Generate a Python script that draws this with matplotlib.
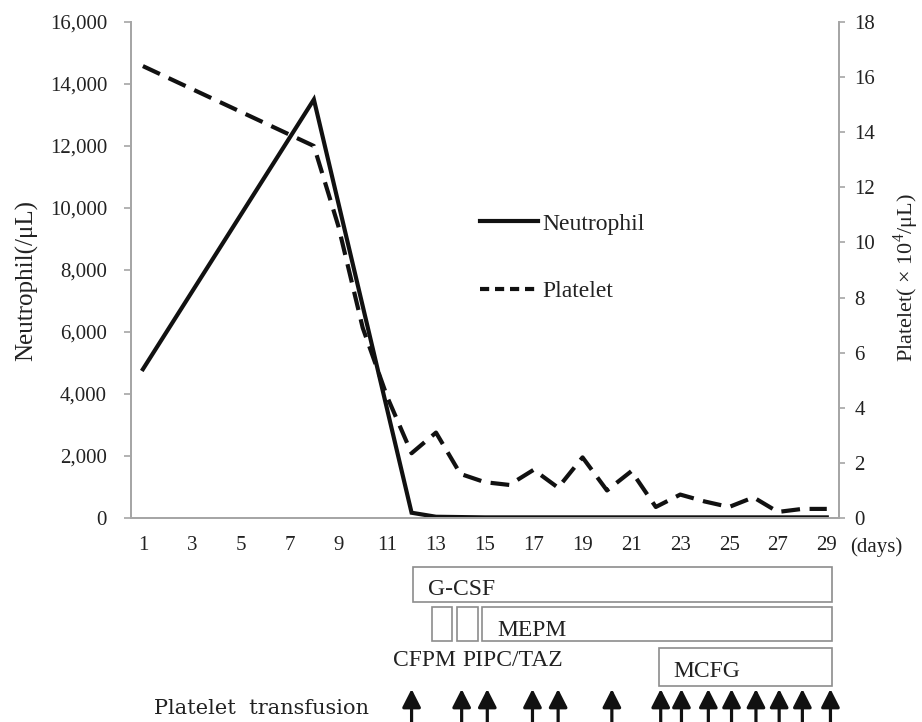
import matplotlib
matplotlib.use("Agg")
import matplotlib.pyplot as plt
from matplotlib.patches import Rectangle
from matplotlib.lines import Line2D
from matplotlib.ticker import FuncFormatter

plt.rcParams['font.family'] = ['Liberation Serif', 'DejaVu Serif']
plt.rcParams['mathtext.fontset'] = 'custom'
plt.rcParams['mathtext.rm'] = 'Liberation Serif'

# neutrophil count (/uL)
neut_days = [1, 8, 12, 13, 14, 15, 16, 17, 18, 19, 20, 21, 22, 23, 24, 25, 26, 27, 28, 29]
neut_vals = [4800, 13500, 170, 40, 30, 20, 20, 20, 20, 20, 20, 20, 20, 20, 20, 20, 20, 20, 20, 20]

# platelet count (x10^4/uL)
plt_days = [1, 8, 9, 10, 11, 12, 13, 14, 15, 16, 17, 18, 19, 20, 21, 22, 23, 24, 25, 26, 27, 28, 29]
plt_vals = [16.4, 13.5, 10.6, 6.9, 4.4, 2.35, 3.1, 1.6, 1.3, 1.2, 1.75, 1.1, 2.2, 1.0, 1.7,
            0.4, 0.85, 0.6, 0.4, 0.75, 0.22, 0.33, 0.33]

# treatment periods (start day, end day)
treat_names = ["G-CSF", "", "", "MEPM", "MCFG"]
treat_start = [12.04, 12.82, 13.84, 14.87, 22.12]
treat_end = [29.2, 13.66, 14.7, 29.2, 29.2]
treat_row = [0, 1, 1, 1, 2]

transfusion_days = [12.0, 14.05, 15.1, 16.95, 18.0, 20.2, 22.2, 23.05, 24.15, 25.1, 26.1, 27.05, 28.0, 29.15]

txt = '#222222'
gray = '#a6a6a6'

fig = plt.figure(figsize=(9.22, 7.22), dpi=100)
L, W = 130.7 / 922, 708.3 / 922
ax = fig.add_axes([L, 204 / 722, W, 496 / 722])
ax2 = ax.twinx()

ax.plot(neut_days, neut_vals, color='#111111', lw=3, solid_joinstyle='miter', label='Neutrophil')
ax2.plot(plt_days, plt_vals, color='#111111', lw=3, linestyle=(0, (4.5, 2.3)), label='Platelet')

ax.set_xlim(0.5, 29.5)
ax.set_ylim(0, 16000)
ax2.set_ylim(0, 18)
ax.set_xticks(range(1, 30, 2))
ax.set_yticks(range(0, 16001, 2000))
ax2.set_yticks(range(0, 19, 2))
ax.yaxis.set_major_formatter(FuncFormatter(lambda v, p: f"{v:,.0f}"))

for a in (ax, ax2):
    a.spines['top'].set_visible(False)
    for s in ('left', 'right', 'bottom'):
        a.spines[s].set_color(gray)
        a.spines[s].set_linewidth(1.3)
ax.tick_params(axis='x', length=0, pad=13, labelsize=15, labelcolor=txt)
ax.tick_params(axis='y', length=5, width=1.2, color=gray, pad=12, labelsize=15, labelcolor=txt)
ax2.tick_params(axis='y', length=4, width=1.2, color=gray, pad=7, labelsize=15, labelcolor=txt)

ax.set_ylabel("Neutrophil(/μL)", fontsize=18, color=txt, labelpad=8)
ax.yaxis.label.set_y(0.478)
ax2.set_ylabel("Platelet( × 10$^{4}$/μL)", fontsize=16, color=txt, labelpad=12)
ax2.yaxis.label.set_y(0.485)
ax.text(29.95, -0.058, "(days)", transform=ax.get_xaxis_transform(), fontsize=15,
        color=txt, ha='left', va='center')

handles = [Line2D([], [], color='#111111', lw=3),
           Line2D([], [], color='#111111', lw=3, linestyle=(0, (2.2, 1.4)))]
ax.legend(handles, ['Neutrophil', 'Platelet'], loc='center left', bbox_to_anchor=(0.493, 0.525),
          frameon=False, fontsize=17, handlelength=2.45, handletextpad=0.18, labelspacing=1.95,
          borderpad=0, borderaxespad=0, labelcolor=txt)

# lower panel with treatments (y in pixel rows from top)
axb = fig.add_axes([L, 0, W, 162 / 722])
axb.set_xlim(0.5, 29.5)
axb.set_ylim(722, 560)
axb.axis('off')

row_y = [(567, 601.7), (607.3, 641), (647.7, 686)]
for name, s, e, r in zip(treat_names, treat_start, treat_end, treat_row):
    y0, y1 = row_y[r]
    axb.add_patch(Rectangle((s, y0), e - s, y1 - y0, fill=False, ec='#8c8c8c', lw=1.2))

axb.text(12.66, 589, "G-CSF", fontsize=17, color=txt, va='center', ha='left')
axb.text(15.51, 630, "MEPM", fontsize=17, color=txt, va='center', ha='left')
axb.text(11.22, 660, "CFPM", fontsize=17, color=txt, va='center', ha='left')
axb.text(14.08, 660, "PIPC/TAZ", fontsize=17, color=txt, va='center', ha='left')
axb.text(22.73, 671.7, "MCFG", fontsize=17, color=txt, va='center', ha='left')
axb.text(1.46, 708, "Platelet  transfusion", fontsize=15, color=txt, va='center', ha='left',
         family='DejaVu Serif')

for d in transfusion_days:
    axb.annotate('', xy=(d, 689), xytext=(d, 735),
                 arrowprops=dict(arrowstyle='-|>,head_length=0.55,head_width=0.28', lw=2.3,
                                 color='#111111', shrinkA=0, shrinkB=0, mutation_scale=20),
                 annotation_clip=False)

plt.savefig("out.png", dpi=100)
